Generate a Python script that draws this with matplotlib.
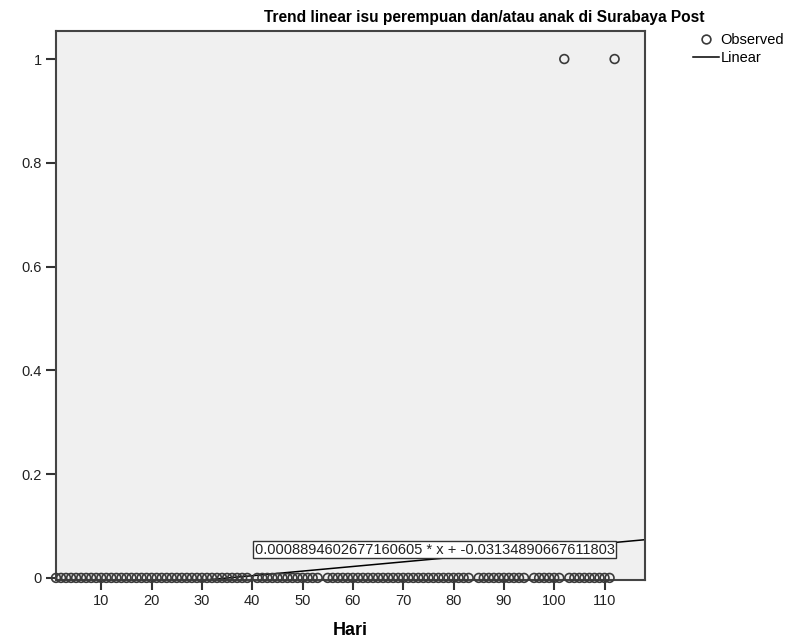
import numpy as np
import matplotlib
matplotlib.use("Agg")
import matplotlib.pyplot as plt
from matplotlib.lines import Line2D

plt.rcParams['font.family'] = ['Liberation Sans', 'DejaVu Sans']

# observed data: day index (Hari) and value
days = list(range(1, 113))
missing_days = [40, 54, 84, 95]
one_days = [102, 112]
obs_x = [d for d in days if d not in missing_days]
obs_y = [1 if d in one_days else 0 for d in obs_x]

# fitted linear trend
slope = 0.0008894602677160605
intercept = -0.03134890667611803
x_max = 118

yticks = [0, 0.2, 0.4, 0.6, 0.8, 1]
ytick_labels = ["0", "0.2", "0.4", "0.6", "0.8", "1"]
xticks = [10, 20, 30, 40, 50, 60, 70, 80, 90, 100, 110]

fig = plt.figure(figsize=(8.02, 6.42), dpi=100)
ax = fig.add_axes([0.0698, 0.0966, 0.7342, 0.8551])
ax.set_facecolor("#f0f0f0")

ax.scatter(obs_x, obs_y, s=40, facecolors="none", edgecolors="#3a3a3a",
           linewidths=1.2, zorder=3, clip_on=False)

lx = np.array([1, x_max])
ax.plot(lx, slope * lx + intercept, color="black", lw=1.1, zorder=2)

ax.text(76.3, 0.054, f"{slope} * x + {intercept}", ha="center", va="center",
        fontsize=10.5, color="#222222",
        bbox=dict(boxstyle="square,pad=0.1", fc="white", ec="#333333", lw=1))

ax.set_xlim(1, x_max)
ax.set_ylim(-0.004, 1.054)
ax.set_xticks(xticks)
ax.set_xticklabels([str(t) for t in xticks], fontsize=10.5, color="#222222")
ax.set_yticks(yticks)
ax.set_yticklabels(ytick_labels, fontsize=10.5, color="#222222")
ax.tick_params(axis="both", direction="out", length=7, width=1.5, color="#333333", pad=3)

for sp in ax.spines.values():
    sp.set_color("#444444")
    sp.set_linewidth(1.5)

ax.set_xlabel("Hari", fontsize=13, fontweight="bold", labelpad=10)

fig.text(0.604, 0.9735, "Trend linear isu perempuan dan/atau anak di Surabaya Post",
         ha="center", va="center", fontsize=11.2, fontweight="bold")

handles = [
    Line2D([], [], marker="o", ls="none", mfc="none", mec="#3a3a3a", ms=6.3, mew=1.2),
    Line2D([], [], color="black", lw=1.1),
]
fig.legend(handles, ["Observed", "Linear"], loc="upper left",
           bbox_to_anchor=(0.855, 0.96), frameon=False, fontsize=10.5,
           handlelength=1.8, handletextpad=0.1, labelspacing=0.25, borderpad=0)

fig.savefig("out.png", dpi=100, facecolor="white")
